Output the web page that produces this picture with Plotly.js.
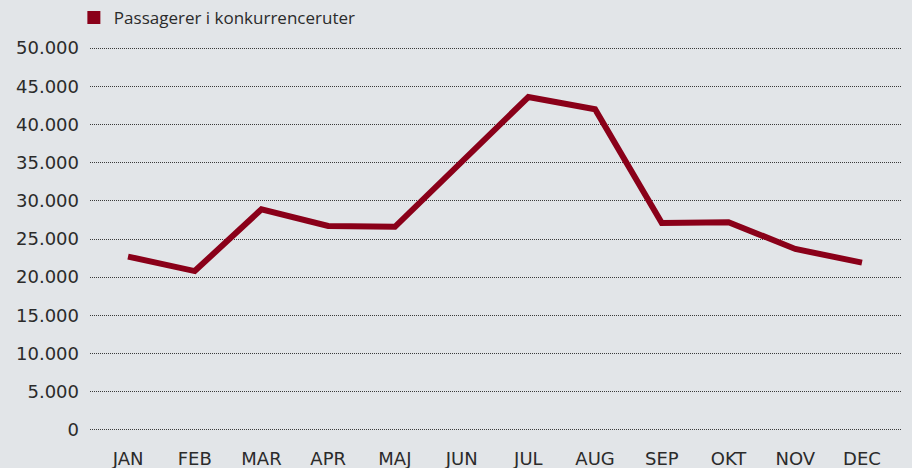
<!DOCTYPE html>
<html>
<head>
<meta charset="utf-8">
<script src="https://cdn.plot.ly/plotly-3.0.1.min.js"></script>
<style>html,body{margin:0;padding:0;background:#e2e5e8;}#chart{width:912px;height:468px;}</style>
</head>
<body>
<div id="chart"></div>
<script>
const months = ["JAN","FEB","MAR","APR","MAJ","JUN","JUL","AUG","SEP","OKT","NOV","DEC"];
const passengers = [22700, 20800, 28900, 26700, 26600, 35000, 43600, 42000, 27100, 27200, 23700, 21900];
const seriesName = "Passagerer i konkurrenceruter";
const yTicks = [0, 5000, 10000, 15000, 20000, 25000, 30000, 35000, 40000, 45000, 50000];

const color = "#8a0019";
const traces = [
  {x: months, y: passengers, type: "scatter", mode: "lines", line: {color: color, width: 6}, showlegend: false, hoverinfo: "skip"},
  {x: [null], y: [null], type: "scatter", mode: "markers", name: seriesName, marker: {symbol: "square", size: 13, color: color}}
];
const layout = {
  width: 912, height: 468,
  paper_bgcolor: "#e2e5e8", plot_bgcolor: "#e2e5e8",
  margin: {l: 90, r: 10, t: 47, b: 37, autoexpand: false},
  separators: ",.",
  font: {family: "DejaVu Sans, sans-serif", color: "#2b2b2b"},
  showlegend: true,
  legend: {x: 0.081, xanchor: "left", y: 1.0, yanchor: "top", yref: "container", xref: "container", orientation: "h", font: {family: "Open Sans, sans-serif", size: 17, color: "#2b2b2b"}, bgcolor: "rgba(0,0,0,0)", itemwidth: 30},
  xaxis: {type: "category", range: [-0.57, 11.6], showgrid: false, zeroline: false, showline: false, ticks: "", tickfont: {size: 18}, ticklabelstandoff: 15, fixedrange: true},
  yaxis: {range: [-150, 50150], tickvals: yTicks, tickformat: ",d", showgrid: true, gridcolor: "#3a3a3a", griddash: "1px,1px", gridwidth: 1, zeroline: false, showline: false, ticks: "", tickfont: {size: 18}, ticklabelstandoff: 10, fixedrange: true}
};
Plotly.newPlot("chart", traces, layout, {displayModeBar: false, staticPlot: true});
</script>
</body>
</html>
